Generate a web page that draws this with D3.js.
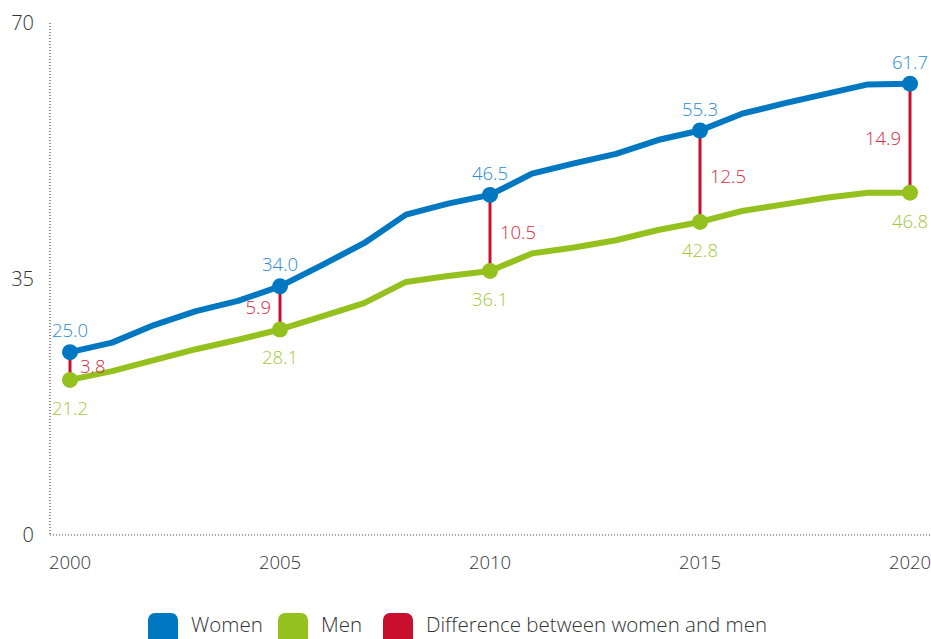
<!DOCTYPE html>
<html>
<head>
<meta charset="utf-8">
<script src="https://cdn.jsdelivr.net/npm/d3@7"></script>
<style>
  html, body { margin: 0; padding: 0; background: #fff; }
  svg { display: block; font-family: "Open Sans", "Noto Sans", sans-serif; font-weight: 300; }
</style>
</head>
<body>
<svg id="chart" width="931" height="639"></svg>
<script>
const years = [2000,2001,2002,2003,2004,2005,2006,2007,2008,2009,2010,2011,2012,2013,2014,2015,2016,2017,2018,2019,2020];
const women = [25.0,26.3,28.7,30.6,32.0,34.0,36.9,39.9,43.8,45.3,46.5,49.4,50.8,52.1,54.0,55.3,57.6,59.0,60.3,61.6,61.7];
const men   = [21.2,22.4,23.9,25.4,26.7,28.1,29.9,31.7,34.6,35.4,36.1,38.5,39.3,40.3,41.7,42.8,44.3,45.2,46.1,46.8,46.8];
const markedYears = [2000,2005,2010,2015,2020];
const diffValues = [3.8,5.9,10.5,12.5,14.9];
const diffSide = ["right","left","right","right","left"];
const yTicks = [0,35,70];
const xTicks = [2000,2005,2010,2015,2020];
const legendLabels = ["Women","Men","Difference between women and men"];

const colors = { women: "#0077c1", men: "#95c11f", diff: "#c8102e",
                 womenText: "#2a8bd2", menText: "#a2c83a", diffText: "#d52a40", axis: "#333" };

const svg = d3.select("#chart");
const x = d3.scaleLinear().domain([2000, 2020]).range([70, 910]);
const y = d3.scaleLinear().domain([0, 70]).range([535, 23]);

// axes (dotted)
svg.append("line").attr("x1", 50).attr("x2", 50).attr("y1", y(70)).attr("y2", y(0))
  .attr("stroke", "#444").attr("stroke-width", 1.2).attr("stroke-dasharray", "1,2");
svg.append("line").attr("x1", 50).attr("x2", 931).attr("y1", y(0)).attr("y2", y(0))
  .attr("stroke", "#444").attr("stroke-width", 1.2).attr("stroke-dasharray", "1,2");

svg.append("g").selectAll("text").data(yTicks).join("text")
  .attr("x", 34).attr("y", d => y(d)).attr("dy", "0.35em")
  .attr("text-anchor", "end").attr("font-size", 20).attr("fill", colors.axis)
  .text(d => d);

svg.append("g").selectAll("text").data(xTicks).join("text")
  .attr("x", d => x(d)).attr("y", 569)
  .attr("text-anchor", "middle").attr("font-size", 18.5).attr("fill", colors.axis)
  .text(d => d);

const line = d3.line().x((d, i) => x(years[i])).y(d => y(d));

svg.append("path").datum(men).attr("d", line).attr("fill", "none")
  .attr("stroke", colors.men).attr("stroke-width", 6).attr("stroke-linejoin", "round");
svg.append("path").datum(women).attr("d", line).attr("fill", "none")
  .attr("stroke", colors.women).attr("stroke-width", 6).attr("stroke-linejoin", "round");

const marks = markedYears.map((yr, i) => {
  const idx = years.indexOf(yr);
  return { yr, w: women[idx], m: men[idx], diff: diffValues[i], side: diffSide[i] };
});

// difference lines
svg.append("g").selectAll("line").data(marks).join("line")
  .attr("x1", d => x(d.yr)).attr("x2", d => x(d.yr))
  .attr("y1", d => y(d.w)).attr("y2", d => y(d.m))
  .attr("stroke", colors.diff).attr("stroke-width", 3);

// points
svg.append("g").selectAll("circle").data(marks).join("circle")
  .attr("cx", d => x(d.yr)).attr("cy", d => y(d.m)).attr("r", 8).attr("fill", colors.men);
svg.append("g").selectAll("circle").data(marks).join("circle")
  .attr("cx", d => x(d.yr)).attr("cy", d => y(d.w)).attr("r", 8).attr("fill", colors.women);

// labels
svg.append("g").selectAll("text").data(marks).join("text")
  .attr("x", d => x(d.yr)).attr("y", d => y(d.w) - 15)
  .attr("text-anchor", "middle").attr("font-size", 18.5).attr("fill", colors.womenText)
  .text(d => d.w.toFixed(1));
svg.append("g").selectAll("text").data(marks).join("text")
  .attr("x", d => x(d.yr)).attr("y", d => y(d.m) + 35)
  .attr("text-anchor", "middle").attr("font-size", 18.5).attr("fill", colors.menText)
  .text(d => d.m.toFixed(1));
svg.append("g").selectAll("text").data(marks).join("text")
  .attr("x", d => x(d.yr) + (d.side === "right" ? 10 : -9))
  .attr("y", d => (y(d.w) + y(d.m)) / 2).attr("dy", "0.35em")
  .attr("text-anchor", d => d.side === "right" ? "start" : "end")
  .attr("font-size", 18.5).attr("fill", colors.diffText)
  .text(d => d.diff.toFixed(1));

// legend
const legendColors = [colors.women, colors.men, colors.diff];
const legendX = [148, 278, 383];
const lg = svg.append("g").selectAll("g").data(legendLabels).join("g")
  .attr("transform", (d, i) => `translate(${legendX[i]},613)`);
lg.append("rect").attr("width", 30).attr("height", 34).attr("rx", 7)
  .attr("fill", (d, i) => legendColors[i]);
lg.append("text").attr("x", 43).attr("y", 19).attr("font-size", 20.5).attr("fill", colors.axis)
  .text(d => d);
</script>
</body>
</html>
